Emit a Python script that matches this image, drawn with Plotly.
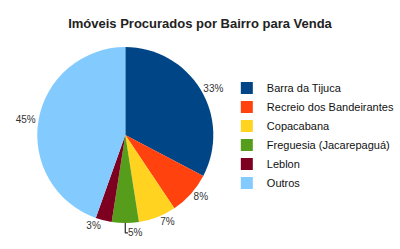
import plotly.graph_objects as go

labels = ["Barra da Tijuca", "Recreio dos Bandeirantes", "Copacabana",
          "Freguesia (Jacarepaguá)", "Leblon", "Outros"]
values = [33, 8, 7, 5, 3, 45]
colors = ["#004586", "#ff420e", "#ffd320", "#579d1c", "#7e0021", "#83caff"]

fig = go.Figure(go.Pie(
    labels=labels, values=values, sort=False, direction="clockwise", rotation=0,
    marker=dict(colors=colors, line=dict(width=0)),
    textposition="outside", texttemplate="%{percent:.0%}",
    textfont=dict(family="Liberation Sans, Arial, sans-serif", size=10, color="#333"),
    domain=dict(x=[0.0, 0.544], y=[0.104, 0.811]),
    hoverinfo="label+percent",
))
fig.update_layout(
    width=400, height=249,
    margin=dict(l=0, r=0, t=0, b=0),
    paper_bgcolor="white",
    title=dict(text="<b>Imóveis Procurados por Bairro para Venda</b>",
               x=0.5, xanchor="center", y=0.905, yanchor="middle",
               font=dict(family="Liberation Sans, Arial, sans-serif", size=13, color="#222")),
    legend=dict(x=0.568, y=0.456, xanchor="left", yanchor="middle",
                bgcolor="rgba(0,0,0,0)",
                font=dict(family="Liberation Sans, Arial, sans-serif", size=11, color="#111"),
                itemwidth=30, tracegroupgap=0),
    showlegend=True,
)
fig.write_html("out.html")
